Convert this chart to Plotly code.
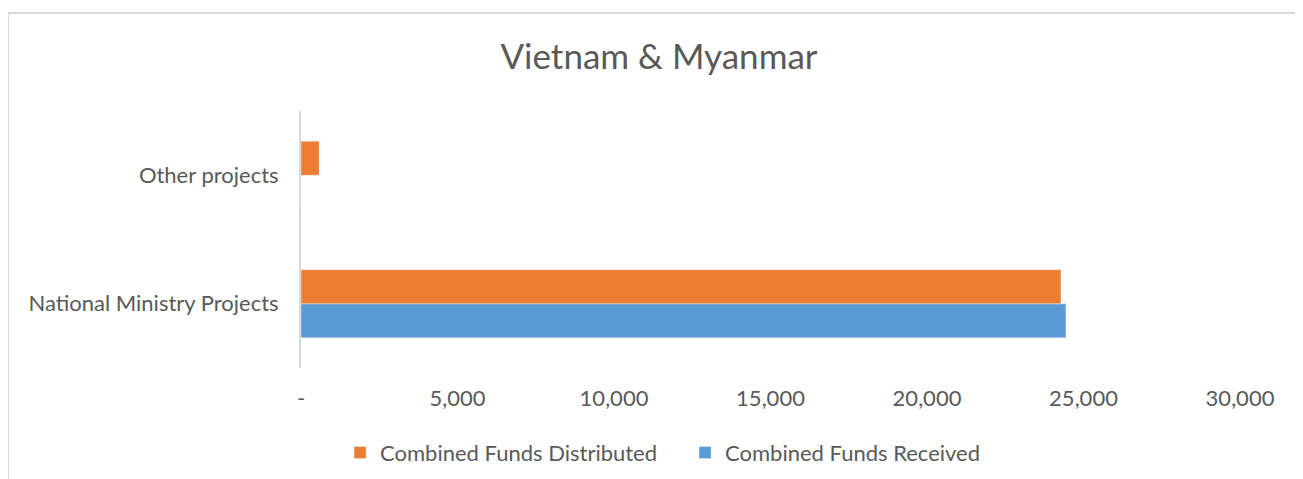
import plotly.graph_objects as go

categories = ["National Ministry Projects", "Other projects"]
funds_distributed = [24280, 580]
funds_received = [24440, 0]
tick_values = [0, 5000, 10000, 15000, 20000, 25000, 30000]
tick_labels = ["-", "5,000", "10,000", "15,000", "20,000", "25,000", "30,000"]

font_family = "Lato, Open Sans, sans-serif"
text_grey = "#595959"

received_trace = go.Bar(
    y=categories,
    x=funds_received,
    name="Combined Funds Received",
    orientation="h",
    marker=dict(color="#5B9BD5"),
)

distributed_trace = go.Bar(
    y=categories,
    x=funds_distributed,
    name="Combined Funds Distributed",
    orientation="h",
    marker=dict(color="#ED7D31"),
)

fig = go.Figure(data=[received_trace, distributed_trace])

# page body adds an 8px margin, so the figure is drawn 8px smaller
fig.update_layout(
    width=1295,
    height=471,
    barmode="group",
    bargap=0.47,
    bargroupgap=0,
    plot_bgcolor="white",
    paper_bgcolor="white",
    font=dict(family=font_family, size=22, color=text_grey),
    title=dict(
        text="Vietnam & Myanmar",
        x=0.5027,
        xanchor="center",
        y=0.896,
        yanchor="middle",
        font=dict(size=35, color=text_grey),
    ),
    margin=dict(l=293, r=63, t=103, b=111, autoexpand=False),
    legend=dict(
        orientation="h",
        traceorder="reversed",
        x=0.409,
        xanchor="center",
        y=-0.33,
        yanchor="middle",
        font=dict(size=22, color=text_grey),
        itemwidth=30,
        entrywidth=300,
    ),
    xaxis=dict(
        range=[0, 30000],
        tickvals=tick_values,
        ticktext=tick_labels,
        showgrid=False,
        zeroline=False,
        showline=False,
        ticks="",
        automargin=False,
        ticklabelstandoff=15,
        tickfont=dict(size=22, color=text_grey),
    ),
    yaxis=dict(
        showgrid=False,
        zeroline=False,
        showline=True,
        linecolor="#D9D9D9",
        linewidth=2,
        ticks="",
        automargin=False,
        ticklabelstandoff=16,
        tickfont=dict(size=22, color=text_grey),
    ),
)

# chart border like the Excel chart frame
fig.add_shape(
    type="rect",
    xref="paper", yref="paper",
    x0=-0.312, x1=1.066, y0=-0.6, y1=1.381,
    line=dict(color="#D9D9D9", width=2),
    fillcolor="rgba(0,0,0,0)",
    layer="below",
)

fig.write_html("out.html")
